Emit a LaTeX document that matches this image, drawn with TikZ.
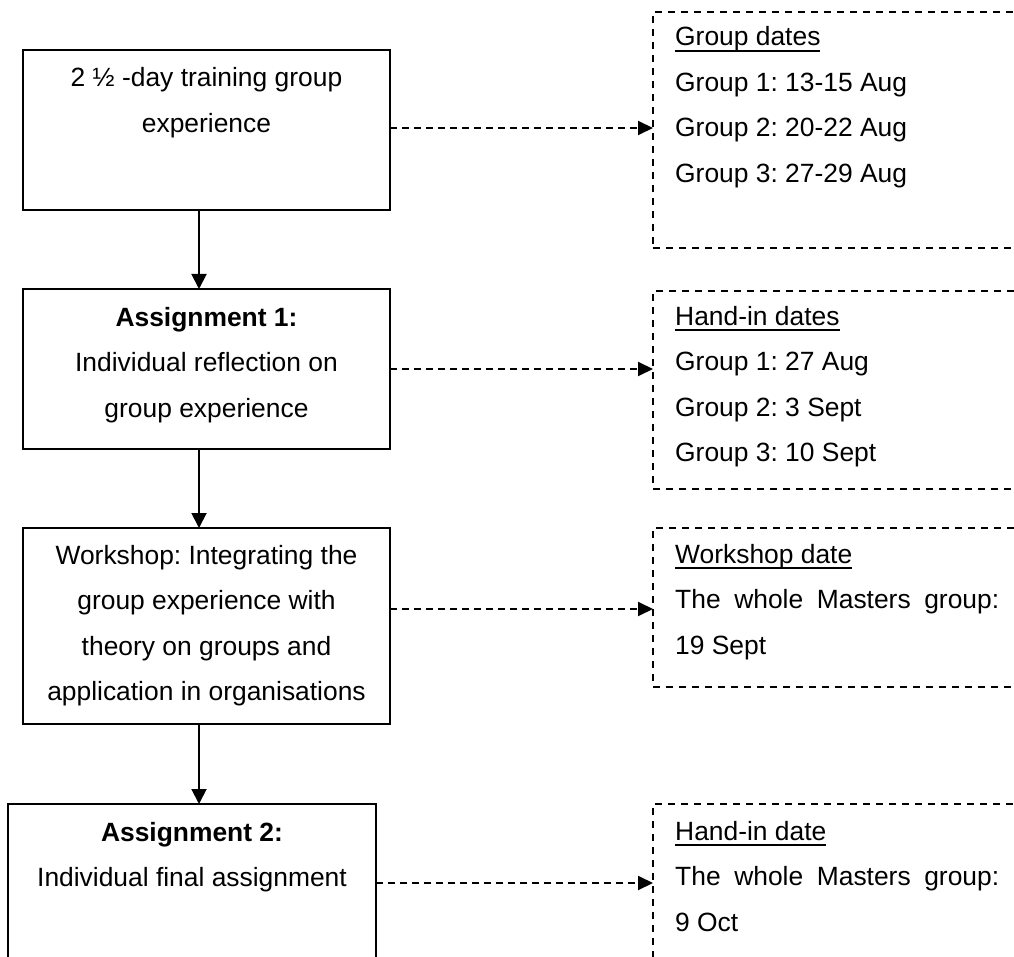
\documentclass[tikz,border=0pt]{standalone}
\usepackage{fontspec}
\setmainfont{Liberation Sans}
\usetikzlibrary{arrows.meta}
\frenchspacing
\newcommand\dateul[1]{\setbox0\hbox{#1}\rlap{\rule[-5.7pt]{\wd0}{2pt}}#1}
\begin{document}
\begin{tikzpicture}[x=1pt,y=-1pt,
  box/.style={draw, line width=2pt, inner sep=0pt, outer sep=0pt},
  dbox/.style={draw, line width=1.9pt, dash pattern=on 7pt off 6pt, inner sep=0pt, outer sep=0pt},
  txt/.style={inner sep=0pt, align=center, anchor=base, font=\fontsize{26.4}{45.5}\selectfont\frenchspacing},
  ltxt/.style={inner sep=0pt, align=left, anchor=base west, font=\fontsize{26.4}{45.5}\selectfont\frenchspacing},
  flow/.style={line width=1.9pt, -{Triangle[length=15pt,width=15pt]}},
  link/.style={line width=1.9pt, dash pattern=on 7pt off 5pt, -{Triangle[length=15pt,width=14pt]}}]
\useasboundingbox (0,0) rectangle (1014,957);
\clip (0,0) rectangle (1014,957);
\fill[white] (0,0) rectangle (1014,957);
% left boxes
\node[box, minimum width=367pt, minimum height=160pt] (b1) at (206.5,130) {};
\node[box, minimum width=367pt, minimum height=160pt] (b2) at (206.5,369) {};
\node[box, minimum width=367pt, minimum height=196pt] (b3) at (206.5,626) {};
\node[box, minimum width=368pt, minimum height=158pt] (b4) at (192,883) {};
% text nodes: anchor=base is the baseline of the last line
\node[txt] (t1) at (206.5,132.5) {2 ½ -day training group\\experience};
\node[txt] (t2) at (206.5,417) {\textbf{Assignment 1:}\\Individual reflection on\\group experience};
\node[txt] (t3) at (206.5,700.5) {Workshop: Integrating the\\group experience with\\theory on groups and\\application in organisations};
\node[txt] (t4) at (192,886.5) {\textbf{Assignment 2:}\\Individual final assignment};
% right dashed boxes
\node[dbox, minimum width=387pt, minimum height=236pt] (g1) at (846.5,130) {};
\node[dbox, minimum width=387pt, minimum height=198pt] (g2) at (846.5,390) {};
\node[dbox, minimum width=387pt, minimum height=159pt] (g3) at (846.5,607.5) {};
\node[dbox, minimum width=387pt, minimum height=171pt] (g4) at (846.5,889.5) {};
\node[ltxt] (d1) at (675,182.5) {\dateul{Group dates}\\Group 1: 13-15 Aug\\Group 2: 20-22 Aug\\Group 3: 27-29 Aug};
\node[ltxt] (d2) at (675,461.5) {\dateul{Hand-in dates}\\Group 1: 27 Aug\\Group 2: 3 Sept\\Group 3: 10 Sept};
\node[ltxt] (d3) at (675,654) {\dateul{Workshop date}\\\makebox[324pt][s]{The whole Masters group:}\\19 Sept};
\node[ltxt] (d4) at (675,931) {\dateul{Hand-in date}\\\makebox[324pt][s]{The whole Masters group:}\\9 Oct};
% flow arrows
\draw[flow] ([xshift=-7.5pt]b1.south) -- ([xshift=-7.5pt]b1.south |- b2.north);
\draw[flow] ([xshift=-7.5pt]b2.south) -- ([xshift=-7.5pt]b2.south |- b3.north);
\draw[flow] ([xshift=-7.5pt]b3.south) -- ([xshift=-7.5pt]b3.south |- b4.north);
% dashed links
\draw[link] ([yshift=2pt]b1.east) -- ([yshift=2pt]b1.east -| g1.west);
\draw[link] (b2.east) -- (b2.east -| g2.west);
\draw[link] ([yshift=17pt]b3.east) -- ([yshift=17pt]b3.east -| g3.west);
\draw[link] (b4.east) -- (b4.east -| g4.west);
\end{tikzpicture}
\end{document}
